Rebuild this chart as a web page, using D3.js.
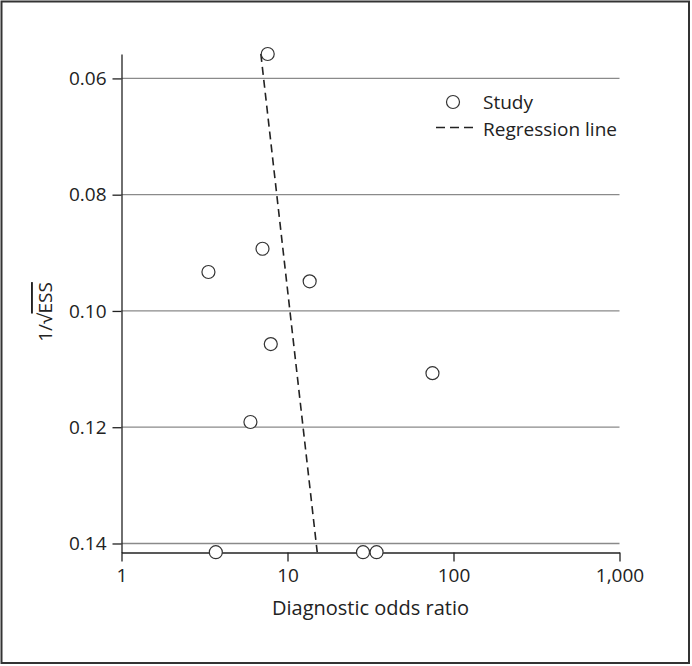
<!DOCTYPE html>
<html>
<head>
<meta charset="utf-8">
<script src="https://cdn.jsdelivr.net/npm/d3@7"></script>
<style>
  body { margin: 0; background: #fff; }
  text { font-family: "Open Sans", "Noto Sans", sans-serif; fill: #222; }
</style>
</head>
<body>
<div id="app"></div>
<script>
// study points: diagnostic odds ratio vs 1/sqrt(ESS)
const studyDOR = [7.6, 7.07, 3.34, 13.6, 7.93, 5.98, 74.7, 3.7, 28.5, 34.4];
const studyInvESS = [0.0558, 0.0893, 0.0933, 0.0949, 0.1057, 0.1191, 0.1107, 0.1415, 0.1415, 0.1415];

// regression line end points
const regDOR = [6.91, 15.1];
const regInvESS = [0.0558, 0.1415];

const xTicks = [1, 10, 100, 1000];
const yTicks = [0.06, 0.08, 0.10, 0.12, 0.14];
const legendLabels = ["Study", "Regression line"];

const width = 692, height = 666;
const margin = { top: 54, right: 72, bottom: 113, left: 121.5 };
const fontSize = 19;

const svg = d3.select("#app").append("svg")
  .attr("width", width)
  .attr("height", height);

// outer frame
svg.append("rect")
  .attr("x", 1.5).attr("y", 1.5)
  .attr("width", 687.5).attr("height", 661.5)
  .attr("fill", "none")
  .attr("stroke", "#333")
  .attr("stroke-width", 2);

const x = d3.scaleLog()
  .domain([1, 1000])
  .range([margin.left, 619.5]);

const y = d3.scaleLinear()
  .domain([0.0558, 0.14155])
  .range([margin.top, 552.5]);

// horizontal grid lines
svg.append("g")
  .selectAll("line")
  .data(yTicks)
  .join("line")
  .attr("x1", x(1))
  .attr("x2", x(1000))
  .attr("y1", d => y(d))
  .attr("y2", d => y(d))
  .attr("stroke", "#8a8a8a")
  .attr("stroke-width", 1.3);

const fmtX = d => d3.format(",")(d);

const xAxis = svg.append("g")
  .attr("transform", `translate(0,${y.range()[1]})`)
  .call(d3.axisBottom(x).tickValues(xTicks).tickFormat(fmtX).tickSize(9).tickSizeOuter(0).tickPadding(7));

const yAxis = svg.append("g")
  .attr("transform", `translate(${margin.left},0)`)
  .call(d3.axisLeft(y).tickValues(yTicks).tickFormat(d3.format(".2f")).tickSize(9).tickSizeOuter(0).tickPadding(6));

[xAxis, yAxis].forEach(ax => {
  ax.select(".domain").attr("stroke", "#222").attr("stroke-width", 1.3);
  ax.selectAll(".tick line").attr("stroke", "#222").attr("stroke-width", 1.3);
  ax.selectAll(".tick text")
    .attr("font-size", fontSize)
    .attr("fill", "#222")
    .style("font-family", "'Open Sans', sans-serif");
});

// regression line
const regData = regDOR.map((d, i) => [d, regInvESS[i]]);
svg.append("path")
  .datum(regData)
  .attr("fill", "none")
  .attr("stroke", "#222")
  .attr("stroke-width", 1.6)
  .attr("stroke-dasharray", "8,5")
  .attr("d", d3.line().x(d => x(d[0])).y(d => y(d[1])));

// study circles
svg.append("g")
  .selectAll("circle")
  .data(studyDOR.map((d, i) => [d, studyInvESS[i]]))
  .join("circle")
  .attr("cx", d => x(d[0]))
  .attr("cy", d => y(d[1]))
  .attr("r", 6.5)
  .attr("fill", "#fff")
  .attr("stroke", "#333")
  .attr("stroke-width", 1.2);

// axis titles
svg.append("text")
  .attr("x", (x(1) + x(1000)) / 2)
  .attr("y", 615)
  .attr("text-anchor", "middle")
  .attr("font-size", 20)
  .text("Diagnostic odds ratio");

const yTitle = svg.append("text")
  .attr("transform", `translate(52,${(y(0.06) + y(0.14)) / 2 + 1}) rotate(-90)`)
  .attr("text-anchor", "middle")
  .attr("font-size", fontSize);
yTitle.append("tspan").text("1/\u221A");
yTitle.append("tspan").style("text-decoration", "overline").text("ESS");

// legend
const legend = svg.append("g").attr("transform", "translate(436,102)");
legend.append("circle")
  .attr("cx", 17).attr("cy", 0).attr("r", 6.5)
  .attr("fill", "#fff").attr("stroke", "#333").attr("stroke-width", 1.2);
legend.append("line")
  .attr("x1", 0).attr("x2", 37).attr("y1", 25.5).attr("y2", 25.5)
  .attr("stroke", "#222").attr("stroke-width", 1.6)
  .attr("stroke-dasharray", "9,5");
legend.selectAll("text.lbl")
  .data(legendLabels)
  .join("text")
  .attr("class", "lbl")
  .attr("x", 47)
  .attr("y", (d, i) => i * 27)
  .attr("dy", "0.35em")
  .attr("font-size", fontSize)
  .text(d => d);
</script>
</body>
</html>
